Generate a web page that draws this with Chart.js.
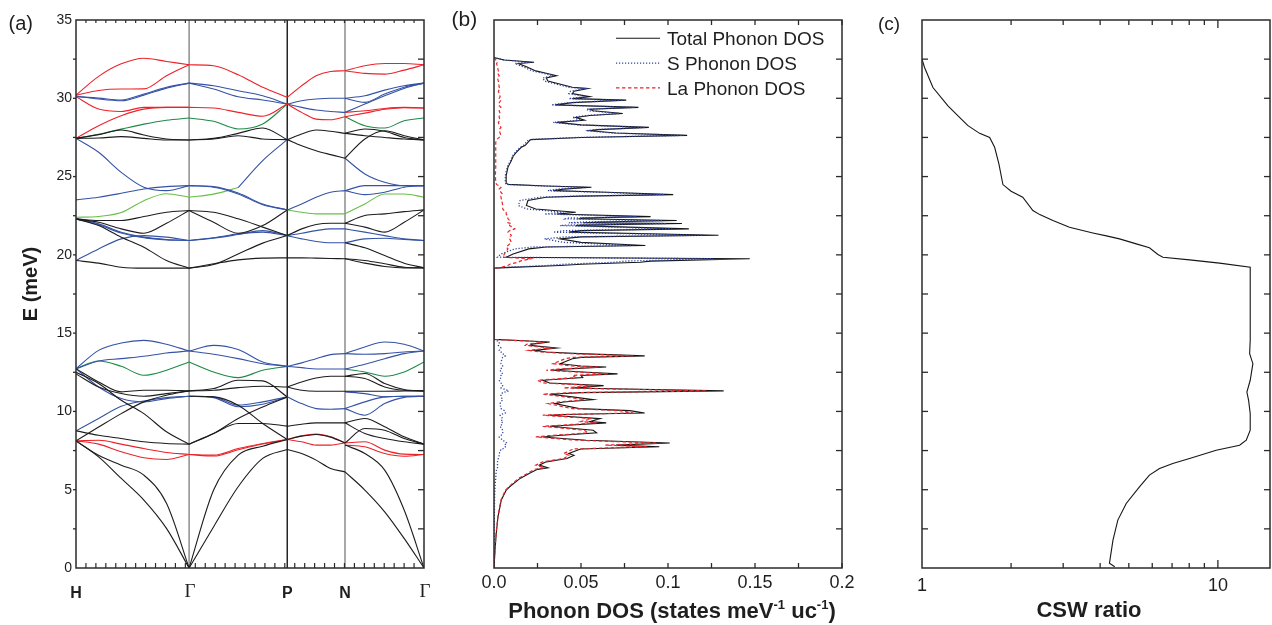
<!DOCTYPE html>
<html lang="en">
<head>
<meta charset="UTF-8">
<title>Phonon dispersion, DOS and CSW ratio</title>
<script src="https://cdn.jsdelivr.net/npm/chart.js"></script>
<style>
  body { margin: 0; background: #fff; }
  #wrap { position: relative; width: 1272px; height: 625px; }
  #wrap canvas { position: absolute; left: 0; top: 0; }
</style>
</head>
<body>
<div id="wrap">
  <canvas id="dispChart" width="1272" height="625"></canvas>
  <canvas id="dosChart" width="1272" height="625"></canvas>
  <canvas id="cswChart" width="1272" height="625"></canvas>
</div>
<script>
// ---------- (a) dispersion: k positions along H-Γ-P-N-Γ (fraction of path) ----------
const kHG = [0, 0.065, 0.13, 0.195, 0.26, 0.325];
const kGP = [0.325, 0.3955, 0.466, 0.5365, 0.607];
const kPN = [0.607, 0.6485, 0.69, 0.7315, 0.773];
const kNG = [0.773, 0.83, 0.887, 0.943, 1.0];
const kLabels = ['H', 'Γ', 'P', 'N', 'Γ'];

// branch energies (meV) at the k points of each segment, grouped by colour
const hgRed = [
  [30.2, 31.4, 32.2, 32.56, 32.35, 32.14],
  [30.2, 30.5, 30.59, 30.6, 31.44, 32.14],
  [30.1, 29.31, 29.16, 29.42, 29.42, 29.42],
  [27.44, 28.25, 28.89, 29.31, 29.42, 29.42],
  [8.12, 8.16, 7.91, 7.63, 7.38, 7.25],
  [8.12, 7.91, 7.42, 7.04, 6.93, 7.25]
];
const hgBlue = [
  [30.1, 30.01, 29.89, 30.27, 30.7, 30.97],
  [30.15, 29.95, 29.84, 30.2, 30.65, 30.97],
  [27.44, 26.55, 25.27, 24.32, 24.1, 24.42],
  [23.51, 23.68, 23.93, 24.21, 24.36, 24.42],
  [22.3, 21.98, 21.45, 21.13, 20.98, 20.92],
  [22.3, 21.92, 21.4, 21.1, 20.96, 20.92],
  [19.64, 20.38, 21.02, 21.23, 21.13, 20.92],
  [12.73, 13.9, 14.37, 14.54, 14.29, 13.86],
  [12.73, 13.22, 13.37, 13.52, 13.73, 13.86],
  [12.73, 11.56, 10.82, 10.61, 10.82, 10.97],
  [8.76, 9.55, 10.33, 10.67, 10.88, 10.97]
];
const hgGreen = [
  [27.44, 27.7, 28.03, 28.35, 28.6, 28.74],
  [12.73, 13.22, 12.88, 12.31, 12.63, 13.16]
];
const hgLime = [
  [22.4, 22.45, 22.7, 23.46, 23.9, 23.68]
];
const hgBlack = [
  [27.44, 27.68, 27.97, 27.65, 27.4, 27.34],
  [27.44, 27.46, 27.55, 27.44, 27.34, 27.34],
  [22.3, 22.19, 22.19, 22.45, 22.72, 22.83],
  [22.3, 22.08, 21.66, 21.38, 22.02, 22.83],
  [22.3, 21.87, 21.13, 20.49, 19.64, 19.15],
  [19.64, 19.47, 19.21, 19.15, 19.15, 19.15],
  [12.73, 11.88, 11.25, 11.35, 11.35, 11.31],
  [12.4, 11.56, 11.14, 10.97, 11.14, 11.31],
  [12.5, 11.78, 10.71, 9.86, 8.7, 7.91],
  [8.12, 9.0, 9.86, 10.61, 11.03, 11.31],
  [8.76, 8.48, 8.27, 8.06, 7.95, 7.91],
  [8.12, 7.2, 6.57, 5.93, 4.13, 0],
  [8.12, 7.1, 5.72, 4.34, 2.53, 0]
];

const gpRed = [
  [32.14, 32.08, 31.5, 30.7, 30.06],
  [29.42, 29.38, 29.1, 28.85, 29.63],
  [7.25, 7.21, 7.63, 7.95, 8.21],
  [7.25, 7.15, 7.55, 7.92, 8.21]
];
const gpBlue = [
  [30.97, 30.8, 30.48, 30.16, 29.63],
  [30.97, 30.59, 30.1, 29.89, 29.63],
  [null, null, 24.3, 26.02, 27.36],
  [24.42, 24.36, 23.95, 23.25, 22.87],
  [24.42, 24.32, 23.89, 23.2, 22.87],
  [20.92, 21.09, 21.34, 21.45, 21.23],
  [20.92, 21.07, 21.3, 21.55, 21.23],
  [13.86, 14.22, 13.95, 13.16, 12.88],
  [13.86, 13.65, 13.37, 13.05, 12.88],
  [10.97, 10.93, 10.4, 10.61, 10.93],
  [10.97, 10.88, 10.3, 10.46, 10.93]
];
const gpGreen = [
  [28.74, 28.53, 28.04, 28.36, 29.63],
  [13.16, 12.52, 12.16, 12.63, 12.88]
];
const gpLime = [
  [23.68, 23.88, 24.3, null, null]
];
const gpBlack = [
  [27.34, 27.44, 27.76, 28.1, 27.36],
  [27.34, 27.4, 27.61, 27.4, 27.36],
  [22.83, 22.72, 22.3, 21.77, 21.23],
  [22.83, 22.08, 21.38, 21.87, 22.87],
  [19.15, 19.38, 20.06, 20.75, 21.23],
  [19.15, 19.43, 19.68, 19.79, 19.81],
  [11.31, 11.46, 11.99, 11.95, 10.93],
  [11.31, 11.35, 11.52, 11.61, 11.56],
  [10.97, 10.93, 10.4, 9.23, 8.21],
  [7.91, 8.59, 9.55, 10.29, 10.93],
  [7.91, 8.59, 9.23, 9.23, 9.06],
  [0, 4.98, 7.21, 7.78, 8.21],
  [0, 2.64, 5.19, 7.0, 7.57]
];

const pnRed = [
  [30.06, 30.8, 31.44, 31.71, 31.76],
  [29.63, 29.1, 28.67, 28.63, 28.82],
  [8.21, 8.44, 8.55, 8.38, 7.99],
  [8.21, 8.06, 7.85, 7.85, 7.99]
];
const pnBlue = [
  [29.63, 29.84, 29.95, 30.0, 30.0],
  [29.63, 29.42, 29.25, 29.16, 29.1],
  [22.87, 23.25, 23.68, 24.0, 24.1],
  [21.23, 21.38, 21.55, 21.66, 21.66],
  [21.23, 21.02, 20.85, 20.77, 20.77],
  [12.88, 13.1, 13.37, 13.63, 13.69],
  [12.88, 12.8, 12.71, 12.71, 12.71],
  [10.93, 10.5, 10.18, 10.14, 10.18]
];
const pnGreen = [];
const pnLime = [
  [22.87, 22.72, 22.62, 22.62, 22.62]
];
const pnBlack = [
  [27.36, 27.72, 27.97, 27.89, 27.76],
  [27.36, 26.97, 26.65, 26.4, 26.17],
  [21.23, 21.66, 21.94, 22.02, 22.02],
  [19.81, 19.81, 19.79, 19.77, 19.75],
  [11.56, 11.88, 12.14, 12.25, 12.25],
  [11.56, 11.35, 11.29, 11.29, 11.29],
  [9.06, 9.18, 9.27, 9.27, 9.27],
  [8.21, 8.42, 8.53, 8.36, 7.99],
  [7.57, 7.31, 6.89, 6.36, 6.14]
];

const ngRed = [
  [31.76, 32.08, 32.22, 32.22, 32.14],
  [31.76, 31.59, 31.54, 31.8, 32.14],
  [29.1, 29.2, 29.35, 29.42, 29.38],
  [28.82, 29.05, 29.3, 29.4, 29.38],
  [7.99, 8.06, 7.53, 7.27, 7.25],
  [7.85, 7.74, 7.31, 7.14, 7.25]
];
const ngBlue = [
  [30.0, 30.16, 30.52, 30.8, 30.97],
  [30.0, 29.74, 30.27, 30.7, 30.97],
  [29.1, 29.63, 30.16, 30.63, 30.97],
  [26.17, 25.17, 24.64, 24.42, 24.42],
  [24.1, 24.42, 24.42, 24.42, 24.42],
  [24.1, 23.85, 24.0, 24.32, 24.42],
  [21.66, 21.45, 21.23, 21.02, 20.92],
  [20.77, 21.02, 21.06, 20.98, 20.92],
  [13.69, 14.12, 14.43, 14.29, 13.86],
  [13.69, 13.65, 13.69, 13.8, 13.86],
  [12.71, 13.01, 13.37, 13.69, 13.86],
  [11.25, 11.14, 10.93, 10.97, 10.97],
  [10.18, 10.61, 10.93, 10.97, 10.97],
  [10.18, 9.76, 10.5, 10.9, 10.97]
];
const ngGreen = [
  [28.82, 28.25, 28.1, 28.57, 28.74],
  [12.71, 12.52, 12.25, 12.52, 13.16]
];
const ngLime = [
  [22.62, 23.25, 23.89, 23.89, 23.68]
];
const ngBlack = [
  [27.76, 28.04, 27.89, 27.5, 27.34],
  [27.76, 27.61, 27.5, 27.4, 27.34],
  [26.17, 27.4, 27.93, 27.61, 27.34],
  [22.02, 22.51, 22.62, 22.76, 22.87],
  [22.02, 21.77, 21.45, 22.08, 22.87],
  [20.77, 20.45, 19.96, 19.47, 19.17],
  [19.75, 19.64, 19.43, 19.21, 19.17],
  [19.75, 19.47, 19.26, 19.17, 19.17],
  [12.25, 12.42, 11.78, 11.4, 11.31],
  [12.25, 12.1, 11.56, 11.35, 11.31],
  [11.29, 11.29, 11.29, 11.3, 11.31],
  [9.27, 9.55, 9.02, 8.38, 7.91],
  [9.27, 8.59, 8.27, 8.06, 7.91],
  [7.99, 8.91, 8.8, 8.27, 7.91],
  [7.85, 7.31, 6.25, 3.7, 0],
  [6.14, 4.98, 3.59, 1.89, 0]
];

// ---------- (b) phonon DOS (states meV^-1 uc^-1) ----------
const eUp = [
  32.6, 32.45, 32.3, 32.22, 32.0, 31.75, 31.6, 31.44, 31.3, 31.1,
  30.7, 30.62, 30.45, 30.3, 30.1, 29.98, 29.88, 29.72, 29.58, 29.42,
  29.3, 29.2, 29.03, 28.9, 28.78, 28.6, 28.46, 28.3, 28.14, 28.0,
  27.93, 27.78, 27.63, 27.5, 27.36, 27.19, 27.0, 26.87, 26.55, 26.3,
  26.02, 25.59, 25.06, 24.6, 24.5, 24.4, 24.32, 24.2, 24.1, 24.0,
  23.85, 23.75, 23.68, 23.47, 23.15, 22.93, 22.8, 22.72, 22.61, 22.44,
  22.35, 22.3, 22.19, 22.1, 22.05, 22.0, 21.9, 21.87, 21.66, 21.55,
  21.45, 21.25, 21.15, 21.02, 20.8, 20.6, 20.5, 20.38, 20.06, 19.85,
  19.75, 19.6, 19.53, 19.4, 19.32, 19.2, 19.15
];
const totUp = [
  0, 0.006, 0.023, 0.014, 0.019, 0.024, 0.030, 0.036, 0.030, 0.031,
  0.045, 0.054, 0.046, 0.045, 0.055, 0.045, 0.076, 0.045, 0.035, 0.083,
  0.055, 0.057, 0.074, 0.055, 0.047, 0.052, 0.036, 0.050, 0.089, 0.060,
  0.055, 0.070, 0.111, 0.050, 0.021, 0.0195, 0.018, 0.0157, 0.0128, 0.011,
  0.010, 0.008, 0.007, 0.007, 0.008, 0.030, 0.056, 0.040, 0.034, 0.065,
  0.103, 0.050, 0.030, 0.0195, 0.0186, 0.024, 0.038, 0.047, 0.036, 0.090,
  0.050, 0.049, 0.105, 0.060, 0.051, 0.108, 0.050, 0.047, 0.112, 0.050,
  0.043, 0.129, 0.050, 0.038, 0.050, 0.087, 0.030, 0.020, 0.011, 0.007,
  0.147, 0.090, 0.084, 0.050, 0.038, 0.010, 0
];
const sUp = [
  0, 0.005, 0.021, 0.012, 0.017, 0.022, 0.028, 0.034, 0.028, 0.029,
  0.043, 0.052, 0.044, 0.043, 0.053, 0.043, 0.074, 0.043, 0.033, 0.081,
  0.053, 0.055, 0.072, 0.053, 0.045, 0.050, 0.034, 0.048, 0.087, 0.058,
  0.053, 0.068, 0.109, 0.048, 0.020, 0.0185, 0.017, 0.015, 0.0122, 0.0105,
  0.0095, 0.0075, 0.0065, 0.0065, 0.007, 0.027, 0.053, 0.037, 0.031, 0.061,
  0.098, 0.046, 0.026, 0.015, 0.014, 0.019, 0.032, 0.040, 0.029, 0.082,
  0.042, 0.041, 0.097, 0.052, 0.043, 0.099, 0.041, 0.038, 0.103, 0.041,
  0.034, 0.120, 0.041, 0.029, 0.040, 0.080, 0.022, 0.012, 0.004, 0.002,
  0.126, 0.075, 0.070, 0.040, 0.030, 0.006, 0
];
const laUp = [
  0, 0.001, 0.002, 0.0015, 0.002, 0.0025, 0.002, 0.003, 0.002, 0.0025,
  0.003, 0.0035, 0.0025, 0.003, 0.0035, 0.003, 0.004, 0.003, 0.0025, 0.004,
  0.003, 0.003, 0.0035, 0.003, 0.003, 0.0035, 0.0025, 0.003, 0.004, 0.003,
  0.003, 0.0035, 0.004, 0.003, 0.0015, 0.001, 0.001, 0.001, 0.001, 0.001,
  0.001, 0.001, 0.0008, 0.001, 0.0015, 0.003, 0.004, 0.003, 0.003, 0.004,
  0.005, 0.004, 0.004, 0.0045, 0.005, 0.005, 0.006, 0.007, 0.007, 0.008,
  0.008, 0.008, 0.009, 0.008, 0.008, 0.010, 0.009, 0.009, 0.012, 0.009,
  0.008, 0.010, 0.009, 0.009, 0.010, 0.008, 0.007, 0.008, 0.006, 0.005,
  0.021, 0.015, 0.014, 0.009, 0.008, 0.004, 0
];
const eLo = [
  14.6, 14.5, 14.43, 14.3, 14.22, 14.05, 13.9, 13.8, 13.69, 13.55,
  13.45, 13.37, 13.05, 12.9, 12.84, 12.7, 12.63, 12.52, 12.4, 12.3,
  12.16, 11.99, 11.82, 11.65, 11.5, 11.31, 11.2, 11.1, 10.93, 10.75,
  10.6, 10.5, 10.18, 10.05, 9.9, 9.8, 9.76, 9.54, 9.35, 9.27,
  9.1, 9.05, 8.8, 8.63, 8.45, 8.37, 8.16, 7.98, 7.85, 7.74,
  7.6, 7.57, 7.31, 7.2, 6.99, 6.78, 6.57, 6.4, 6.3, 6.08,
  5.72, 5.19, 4.97, 4.34, 3.27, 2.21, 1.15, 0
];
const totLo = [
  0, 0.020, 0.032, 0.022, 0.0205, 0.036, 0.023, 0.030, 0.049, 0.0866,
  0.050, 0.045, 0.038, 0.050, 0.0645, 0.040, 0.034, 0.051, 0.071, 0.050,
  0.051, 0.028, 0.032, 0.063, 0.045, 0.132, 0.050, 0.032, 0.045, 0.057,
  0.040, 0.035, 0.049, 0.078, 0.0866, 0.040, 0.032, 0.061, 0.055, 0.0645,
  0.040, 0.032, 0.057, 0.059, 0.035, 0.028, 0.053, 0.101, 0.070, 0.095,
  0.050, 0.049, 0.043, 0.046, 0.042, 0.030, 0.026, 0.031, 0.025, 0.021,
  0.015, 0.009, 0.007, 0.0042, 0.0023, 0.0013, 0.0006, 0
];
const sLo = [
  0, 0.002, 0.003, 0.003, 0.0025, 0.004, 0.003, 0.004, 0.005, 0.0065,
  0.005, 0.0045, 0.004, 0.005, 0.0045, 0.004, 0.0035, 0.004, 0.005, 0.004,
  0.004, 0.003, 0.004, 0.005, 0.004, 0.0085, 0.005, 0.004, 0.004, 0.005,
  0.004, 0.0035, 0.004, 0.006, 0.0065, 0.004, 0.0035, 0.005, 0.004, 0.005,
  0.004, 0.0035, 0.005, 0.005, 0.004, 0.003, 0.005, 0.0075, 0.006, 0.0065,
  0.005, 0.004, 0.003, 0.003, 0.0025, 0.002, 0.002, 0.002, 0.0015, 0.0012,
  0.001, 0.0006, 0.0005, 0.0003, 0.0002, 0.0001, 0.0001, 0
];
const laLo = [
  0, 0.018, 0.029, 0.019, 0.018, 0.032, 0.020, 0.026, 0.044, 0.080,
  0.045, 0.041, 0.034, 0.045, 0.060, 0.036, 0.030, 0.047, 0.066, 0.045,
  0.047, 0.025, 0.028, 0.058, 0.040, 0.122, 0.045, 0.028, 0.041, 0.052,
  0.036, 0.031, 0.045, 0.072, 0.080, 0.036, 0.028, 0.056, 0.050, 0.059,
  0.036, 0.028, 0.052, 0.054, 0.031, 0.024, 0.048, 0.094, 0.064, 0.088,
  0.045, 0.045, 0.040, 0.043, 0.040, 0.028, 0.024, 0.029, 0.023, 0.020,
  0.014, 0.0085, 0.0066, 0.004, 0.0022, 0.0012, 0.0005, 0
];
const dosTicks = [0, 0.05, 0.1, 0.15, 0.2];
const dosNames = ['Total Phonon DOS', 'S Phonon DOS', 'La Phonon DOS'];

// ---------- (c) CSW ratio ----------
const cswE = [
  32.5, 31.97, 30.69, 29.52, 28.67, 28.25, 27.76, 27.5, 26.87, 25.8,
  24.49, 24.06, 23.68, 22.83, 22.57, 22.19, 21.76, 21.4, 21.21, 21.02,
  20.7, 20.45, 20.02, 19.85, 19.68, 19.47, 19.21, 17.09, 14.54, 13.69,
  13.05, 11.99, 11.24, 10.71, 9.86, 8.8, 8.16, 7.84, 7.52, 6.99,
  6.67, 6.35, 5.93, 5.2, 4.12, 3.06, 1.78, 0.3, 0.08
];
const cswR = [
  1.0, 1.02, 1.089, 1.224, 1.358, 1.43, 1.566, 1.693, 1.76, 1.82,
  1.877, 2.0, 2.19, 2.37, 2.5, 2.77, 3.15, 3.78, 4.2, 4.65,
  5.3, 5.87, 6.27, 6.52, 8.02, 10.13, 12.86, 12.86, 12.86, 12.8,
  13.13, 12.86, 12.53, 12.7, 12.86, 12.86, 12.47, 11.84, 9.87, 8.02,
  7.04, 6.35, 5.87, 5.44, 4.9, 4.59, 4.42, 4.3, 4.48
];
const cswTicks = [1, 10];

// ---------- styling ----------
const SANS = '"Liberation Sans", Arial, Helvetica, sans-serif';
const SERIF = '"Liberation Serif", "Times New Roman", serif';
const INK = '#1e1e1e';
Chart.defaults.font.family = SANS;
Chart.defaults.color = INK;

const bandColors = { black: '#1c1c1c', red: '#ec2229', blue: '#3552a6', green: '#1d8a47', lime: '#66bf45' };

function frameBox(chart) {
  const { ctx, chartArea: a } = chart;
  ctx.save();
  ctx.strokeStyle = '#2b2b2b';
  ctx.lineWidth = 1.5;
  ctx.strokeRect(a.left, a.top, a.right - a.left, a.bottom - a.top);
  ctx.restore();
}
function tick(ctx, x1, y1, x2, y2) {
  ctx.beginPath(); ctx.moveTo(x1, y1); ctx.lineTo(x2, y2); ctx.stroke();
}
// energy ticks every 2.5 meV; negative length points outwards
function energyTicks(chart, leftLen, rightLen) {
  const { ctx, chartArea: a, scales: { y } } = chart;
  ctx.save();
  ctx.strokeStyle = '#2b2b2b';
  ctx.lineWidth = 1.3;
  for (let v = 2.5; v < 35; v += 2.5) {
    const py = y.getPixelForValue(v);
    if (leftLen) tick(ctx, a.left, py, a.left + leftLen, py);
    if (rightLen) tick(ctx, a.right, py, a.right - rightLen, py);
  }
  ctx.restore();
}
function text(ctx, s, x, y, font, align) {
  ctx.font = font;
  ctx.textAlign = align || 'left';
  ctx.textBaseline = 'alphabetic';
  ctx.fillStyle = INK;
  ctx.fillText(s, x, y);
}

// ---------- (a) chart ----------
const segments = [
  { k: kHG, black: hgBlack, red: hgRed, blue: hgBlue, green: hgGreen, lime: hgLime },
  { k: kGP, black: gpBlack, red: gpRed, blue: gpBlue, green: gpGreen, lime: gpLime },
  { k: kPN, black: pnBlack, red: pnRed, blue: pnBlue, green: pnGreen, lime: pnLime },
  { k: kNG, black: ngBlack, red: ngRed, blue: ngBlue, green: ngGreen, lime: ngLime }
];
const dispSets = [];
segments.forEach(seg => {
  Object.keys(bandColors).forEach(name => {
    seg[name].forEach(band => {
      const pts = [];
      band.forEach((e, i) => { if (e !== null) pts.push({ x: seg.k[i], y: e }); });
      dispSets.push({
        data: pts, showLine: true, borderColor: bandColors[name],
        borderWidth: 1.1, pointRadius: 0, cubicInterpolationMode: 'monotone'
      });
    });
  });
});
const kPoints = [kHG[0], kGP[0], kPN[0], kNG[0], kNG[kNG.length - 1]];

const dispDecor = {
  id: 'dispDecor',
  beforeDatasetsDraw(chart) {
    const { ctx, chartArea: a, scales: { x } } = chart;
    ctx.save();
    ctx.lineWidth = 1.4;
    [[kPoints[1], '#858585'], [kPoints[2], '#151515'], [kPoints[3], '#858585']].forEach(([k, c]) => {
      const px = x.getPixelForValue(k);
      ctx.strokeStyle = c;
      tick(ctx, px, a.top, px, a.bottom);
    });
    ctx.restore();
  },
  afterDraw(chart) {
    const { ctx, chartArea: a, scales: { x } } = chart;
    frameBox(chart);
    energyTicks(chart, -3, 6);
    ctx.save();
    ctx.strokeStyle = '#2b2b2b';
    ctx.lineWidth = 1.2;
    for (let i = 1; i < 35; i++) {
      const px = x.getPixelForValue(i / 35);
      tick(ctx, px, a.bottom, px, a.bottom - 5);
      tick(ctx, px, a.top, px, a.top + 3);
    }
    ctx.restore();
    kLabels.forEach((s, i) => {
      const px = x.getPixelForValue(kPoints[i]);
      if (s === 'Γ') text(ctx, s, px + 1, 597, '19px ' + SERIF, 'center');
      else text(ctx, s, px, 598, 'bold 16px ' + SANS, 'center');
    });
    text(ctx, '(a)', 8.5, 29.5, '20px ' + SANS);
    ctx.save();
    ctx.translate(37, 284);
    ctx.rotate(-Math.PI / 2);
    text(ctx, 'E (meV)', 0, 0, 'bold 20px ' + SANS, 'center');
    ctx.restore();
  }
};

new Chart(document.getElementById('dispChart'), {
  type: 'scatter',
  data: { datasets: dispSets },
  options: {
    responsive: false,
    animation: false,
    layout: { padding: { left: 36, right: 848, top: 20, bottom: 57 } },
    plugins: { legend: { display: false }, tooltip: { enabled: false } },
    scales: {
      x: { type: 'linear', min: 0, max: 1, display: false },
      y: {
        type: 'linear', min: 0, max: 35,
        afterFit: s => { s.width = 40; },
        ticks: { stepSize: 5, padding: 4, color: INK, font: { size: 14 } },
        grid: { display: false, drawTicks: false },
        border: { display: false }
      }
    }
  },
  plugins: [dispDecor]
});

// ---------- (b) chart ----------
function dosSeries(up, lo) {
  const pts = eUp.map((e, i) => ({ x: up[i], y: e }));
  return pts.concat(eLo.map((e, i) => ({ x: lo[i], y: e })));
}
const dosStyles = [
  { color: '#161616', dash: [], width: 1.1, order: 3 },
  { color: '#2f44a0', dash: [1.2, 1.8], width: 1.3, order: 2 },
  { color: '#e8262b', dash: [3.5, 2.5], width: 1.2, order: 1 }
];
const dosData = [dosSeries(totUp, totLo), dosSeries(sUp, sLo), dosSeries(laUp, laLo)];

const dosDecor = {
  id: 'dosDecor',
  afterDraw(chart) {
    const { ctx, chartArea: a, scales: { x } } = chart;
    frameBox(chart);
    energyTicks(chart, 0, 6);
    ctx.save();
    ctx.strokeStyle = '#2b2b2b';
    ctx.lineWidth = 1.3;
    for (let v = 0.025; v < 0.2; v += 0.025) {
      const px = x.getPixelForValue(v);
      tick(ctx, px, a.bottom, px, a.bottom - 5);
      tick(ctx, px, a.top, px, a.top + 5);
    }
    ctx.restore();
    // legend
    dosNames.forEach((name, i) => {
      const st = dosStyles[i];
      const base = 45 + i * 24.8;
      ctx.save();
      ctx.strokeStyle = st.color;
      ctx.lineWidth = st.width;
      ctx.setLineDash(st.dash);
      tick(ctx, 616, base - 6.7, 660, base - 6.7);
      ctx.restore();
      text(ctx, name, 667, base, '19px ' + SANS);
    });
    text(ctx, '(b)', 451.5, 26, '21px ' + SANS);
    // axis title with superscripts
    const big = 'bold 22px ' + SANS, small = 'bold 13px ' + SANS;
    const parts = [['Phonon DOS (states meV', big, 0], ['-1', small, -9], [' uc', big, 0], ['-1', small, -9], [')', big, 0]];
    let w = 0;
    parts.forEach(p => { ctx.font = p[1]; w += ctx.measureText(p[0]).width; });
    let cx = 672 - w / 2;
    parts.forEach(p => {
      text(ctx, p[0], cx, 618 + p[2], p[1]);
      ctx.font = p[1];
      cx += ctx.measureText(p[0]).width;
    });
  }
};

new Chart(document.getElementById('dosChart'), {
  type: 'scatter',
  data: {
    datasets: dosData.map((d, i) => ({
      label: dosNames[i], data: d, showLine: true, pointRadius: 0,
      borderColor: dosStyles[i].color, borderWidth: dosStyles[i].width,
      borderDash: dosStyles[i].dash, order: dosStyles[i].order
    }))
  },
  options: {
    responsive: false,
    animation: false,
    layout: { padding: { left: 494, right: 430, top: 20, bottom: 0 } },
    plugins: { legend: { display: false }, tooltip: { enabled: false } },
    scales: {
      x: {
        type: 'linear', min: 0, max: 0.2,
        afterBuildTicks: s => { s.ticks = dosTicks.map(v => ({ value: v })); },
        afterFit: s => { s.height = 57; },
        ticks: {
          callback: v => (v === 0 ? '0.0' : String(v)),
          padding: 4, color: INK, font: { size: 18 }, maxRotation: 0, autoSkip: false
        },
        grid: { display: false, drawTicks: false },
        border: { display: false }
      },
      y: { type: 'linear', min: 0, max: 35, display: false }
    }
  },
  plugins: [dosDecor]
});

// ---------- (c) chart ----------
const cswDecor = {
  id: 'cswDecor',
  afterDraw(chart) {
    const { ctx, chartArea: a, scales: { x } } = chart;
    frameBox(chart);
    energyTicks(chart, 6, 6);
    ctx.save();
    ctx.strokeStyle = '#2b2b2b';
    ctx.lineWidth = 1.3;
    for (let v = 2; v <= 10; v++) {
      const px = x.getPixelForValue(v);
      const len = v === 10 ? 8 : 5;
      tick(ctx, px, a.bottom, px, a.bottom - len);
      tick(ctx, px, a.top, px, a.top + len);
    }
    ctx.restore();
    text(ctx, '(c)', 878, 29.5, '19px ' + SANS);
    text(ctx, 'CSW ratio', 1089, 617, 'bold 22px ' + SANS, 'center');
  }
};

new Chart(document.getElementById('cswChart'), {
  type: 'scatter',
  data: {
    datasets: [{
      data: cswE.map((e, i) => ({ x: cswR[i], y: e })),
      showLine: true, pointRadius: 0, borderColor: '#161616', borderWidth: 1.1
    }]
  },
  options: {
    responsive: false,
    animation: false,
    layout: { padding: { left: 922, right: 2, top: 20, bottom: 0 } },
    plugins: { legend: { display: false }, tooltip: { enabled: false } },
    scales: {
      x: {
        type: 'logarithmic', min: 1, max: 15,
        afterBuildTicks: s => { s.ticks = cswTicks.map(v => ({ value: v })); },
        afterFit: s => { s.height = 57; },
        ticks: { callback: v => String(v), padding: 7, color: INK, font: { size: 18 }, maxRotation: 0, autoSkip: false },
        grid: { display: false, drawTicks: false },
        border: { display: false }
      },
      y: { type: 'linear', min: 0, max: 35, display: false }
    }
  },
  plugins: [cswDecor]
});
</script>
</body>
</html>
